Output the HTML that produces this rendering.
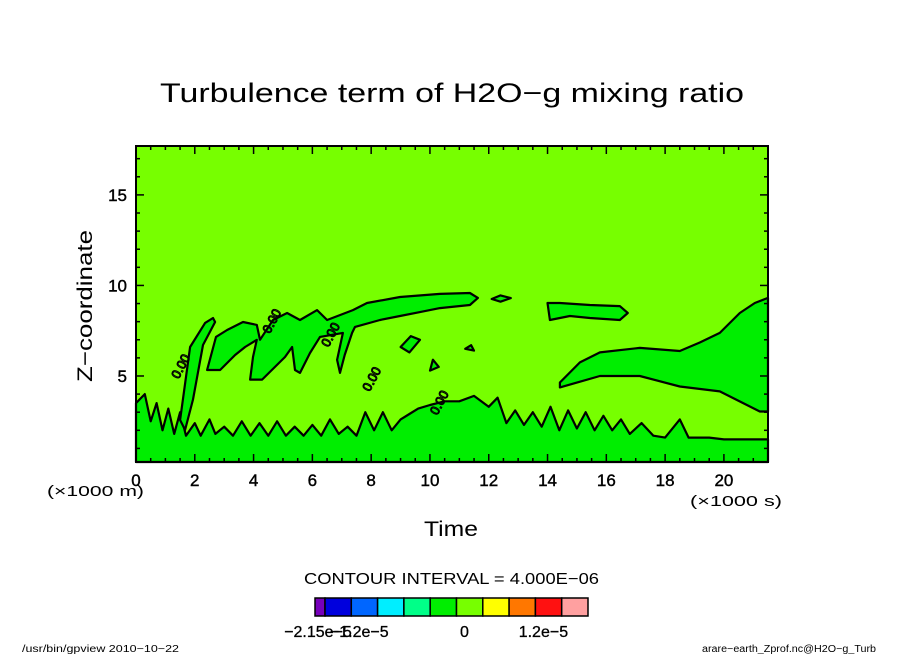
<!DOCTYPE html>
<html><head><meta charset="utf-8"><style>
html,body{margin:0;padding:0;background:#fff}
svg{display:block;font-family:"Liberation Sans",sans-serif}
</style></head><body>
<svg id="chart" width="904" height="654" viewBox="0 0 904 654" xmlns="http://www.w3.org/2000/svg">
<text x="160" y="102" font-size="27" textLength="584" lengthAdjust="spacingAndGlyphs">Turbulence term of H2O−g mixing ratio</text>
<g id="plot"></g>
<text transform="translate(92,382) rotate(-90)" font-size="21" textLength="152" lengthAdjust="spacingAndGlyphs">Z−coordinate</text>
<text x="424" y="536" font-size="21" textLength="54" lengthAdjust="spacingAndGlyphs">Time</text>
<text x="47" y="496" font-size="15" textLength="97" lengthAdjust="spacingAndGlyphs">(×1000 m)</text>
<text x="690" y="506" font-size="15" textLength="92" lengthAdjust="spacingAndGlyphs">(×1000 s)</text>
<text x="304" y="584" font-size="16" textLength="295" lengthAdjust="spacingAndGlyphs">CONTOUR INTERVAL = 4.000E−06</text>
<g id="cbar"></g>
<text x="22" y="652" font-size="10" textLength="157" lengthAdjust="spacingAndGlyphs">/usr/bin/gpview   2010−10−22</text>
<text x="702" y="652" font-size="10" textLength="174" lengthAdjust="spacingAndGlyphs">arare−earth_Zprof.nc@H2O−g_Turb</text>
</svg>
<script>
const xTicks=[0,2,4,6,8,10,12,14,16,18,20];
const yTicks=[5,10,15];
const xRange=[0,21.5];
const yRange=[0.25,17.7];
const lowerBand=[[0,0.25],[0,3.5],[0.3,4.0],[0.5,2.5],[0.7,3.5],[0.9,2.0],[1.1,3.2],[1.3,1.8],[1.5,3.0],[1.7,1.7],[2.0,2.4],[2.2,1.7],[2.5,2.6],[2.7,1.8],[3.0,2.2],[3.3,1.7],[3.6,2.5],[3.9,1.7],[4.2,2.4],[4.5,1.7],[4.8,2.5],[5.1,1.7],[5.4,2.2],[5.7,1.7],[6.0,2.3],[6.3,1.7],[6.6,2.6],[6.9,1.8],[7.2,2.2],[7.5,1.7],[7.8,3.0],[8.1,2.0],[8.4,3.0],[8.7,2.0],[9.0,2.6],[9.3,2.9],[9.6,3.2],[10.0,3.4],[10.5,3.6],[11.0,3.6],[11.5,3.9],[12.0,3.3],[12.3,3.8],[12.6,2.4],[12.9,3.1],[13.2,2.3],[13.5,3.0],[13.8,2.2],[14.1,3.3],[14.4,2.0],[14.7,3.1],[15.0,2.1],[15.3,3.0],[15.6,2.0],[15.9,2.8],[16.2,2.0],[16.5,2.6],[16.8,1.8],[17.2,2.4],[17.6,1.7],[18.0,1.6],[18.5,2.6],[18.8,1.6],[19.5,1.6],[20.0,1.5],[21.5,1.5],[21.5,0.25]];
const upperRegion=[[2.42,5.33],[2.72,7.16],[3.1,7.54],[3.64,7.98],[4.11,7.82],[4.22,7.0],[4.66,8.09],[5.14,8.48],[5.58,8.09],[6.16,8.64],[6.5,8.09],[7.38,8.64],[7.86,9.03],[8.98,9.36],[10.34,9.53],[11.36,9.58],[11.63,9.31],[11.36,8.92],[10.34,8.75],[9.66,8.53],[8.98,8.31],[8.3,8.09],[7.45,7.71],[7.35,7.38],[7.1,6.16],[6.94,5.17],[6.84,5.89],[7.04,7.38],[6.26,7.16],[5.92,6.27],[5.58,5.17],[5.41,5.33],[5.31,6.6],[5.07,6.05],[4.29,4.8],[3.88,4.8],[3.98,6.05],[4.11,7.0],[3.71,6.6],[3.37,6.16],[2.86,5.33]];
const plumeRegion=[[1.5,2.57],[1.84,6.6],[2.35,7.93],[2.62,8.2],[2.69,7.98],[2.28,6.71],[1.94,3.7],[1.67,2.02]];
const rightRegion=[[14.42,4.64],[15.1,5.75],[15.78,6.3],[17.14,6.55],[18.5,6.38],[19.18,6.85],[19.86,7.38],[20.54,8.48],[21.05,9.03],[21.5,9.31],[21.5,3.04],[21.22,3.04],[19.86,4.15],[18.5,4.42],[17.14,5.0],[15.78,5.0],[14.42,4.37]];
const smallBlobs=[[[14.0,9.03],[14.42,9.03],[15.44,8.92],[16.46,8.86],[16.73,8.48],[16.46,8.09],[15.44,8.2],[14.76,8.31],[14.08,8.09]],[[12.1,9.25],[12.4,9.45],[12.75,9.3],[12.4,9.1]],[[9.0,6.6],[9.35,7.2],[9.66,7.0],[9.3,6.3]],[[10.0,5.3],[10.1,5.9],[10.3,5.5]],[[11.2,6.5],[11.4,6.7],[11.5,6.4]]];
const labelPos=[[1.45,4.8],[4.55,7.3],[6.55,6.55],[7.95,4.1],[10.25,2.8]];
const colors=["#7700bb","#0000dd","#0066ff","#00eeff","#00ff88","#00ee00","#77ff00","#ffff00","#ff7700","#ff1111","#ffa0a0"];
const cbarLabels=["−2.15e−5","−1.2e−5","0","1.2e−5"];
const cbarLabelIdx=[0,2,6,9];

const L=136,R=768,T=146,B=462;
const X=t=>L+(t-xRange[0])/(xRange[1]-xRange[0])*(R-L);
const Y=z=>B-(z-yRange[0])/(yRange[1]-yRange[0])*(B-T);
const NS="http://www.w3.org/2000/svg";
function mk(tag,attrs,parent){const e=document.createElementNS(NS,tag);for(const k in attrs)e.setAttribute(k,attrs[k]);parent.appendChild(e);return e;}
const plot=document.getElementById('plot');
const bg=mk('rect',{x:L,y:T,width:R-L,height:B-T,fill:'#77ff00'},plot);


function poly(pts,name){
  const p=mk('polygon',{points:pts.map(q=>X(q[0]).toFixed(1)+','+Y(q[1]).toFixed(1)).join(' '),fill:'#00ee00',stroke:'#000','stroke-width':2.2,'stroke-linejoin':'round'},plot);
  
  
}
poly(lowerBand,'lower-contour-region');
poly(upperRegion,'upper-contour-region');
poly(plumeRegion,'plume-contour-region');
poly(rightRegion,'right-contour-region');
smallBlobs.forEach((b)=>poly(b,'small-contour-region'));
labelPos.forEach(p=>{
  const t=mk('text',{x:X(p[0]),y:Y(p[1]),'font-size':13,transform:`rotate(-62 ${X(p[0])} ${Y(p[1])})`,fill:'none',stroke:'#000','stroke-width':1},plot);
  t.textContent='0.00';
  
  
});
const fr=mk('rect',{x:L,y:T,width:R-L,height:B-T,fill:'none',stroke:'#000','stroke-width':2},plot);


for(let t=0;t<=xRange[1]+1e-9;t+=0.5){
  const maj=Math.abs(t/2-Math.round(t/2))<1e-9, len=maj?8:4;
  mk('line',{x1:X(t),x2:X(t),y1:B,y2:B-len,stroke:'#000','stroke-width':1.5},plot);
  mk('line',{x1:X(t),x2:X(t),y1:T,y2:T+len,stroke:'#000','stroke-width':1.5},plot);
}
for(let z=1;z<=yRange[1];z+=1){
  const len=z%5===0?8:4;
  mk('line',{x1:L,x2:L+len,y1:Y(z),y2:Y(z),stroke:'#000','stroke-width':1.5},plot);
  mk('line',{x1:R,x2:R-len,y1:Y(z),y2:Y(z),stroke:'#000','stroke-width':1.5},plot);
}
xTicks.forEach(v=>{
  const t=mk('text',{x:X(v),y:B+24,'font-size':17,'text-anchor':'middle',stroke:'#000','stroke-width':0.4},plot);
  t.textContent=String(v);
  
  
});
yTicks.forEach(v=>{
  const t=mk('text',{x:L-9,y:Y(v)+6,'font-size':17,'text-anchor':'end',stroke:'#000','stroke-width':0.4},plot);
  t.textContent=String(v);
  
  
});
const cb=document.getElementById('cbar');
const cx0=315,cy0=598,ch=18,firstW=10,cw=(588-325)/10;
colors.forEach((c,i)=>{
  const x=i===0?cx0:cx0+firstW+(i-1)*cw, w=i===0?firstW:cw;
  const r=mk('rect',{x:x,y:cy0,width:w,height:ch,fill:c,stroke:'#000','stroke-width':1.5},cb);
  
  
});
cbarLabels.forEach((s,i)=>{
  const k=cbarLabelIdx[i];
  const x=k===0?cx0+3:cx0+firstW+(k-1)*cw+8;
  const t=mk('text',{x:x,y:637,'font-size':16,'text-anchor':'middle',stroke:'#000','stroke-width':0.3},cb);
  t.textContent=s;
  
  
});
</script>
</body></html>
